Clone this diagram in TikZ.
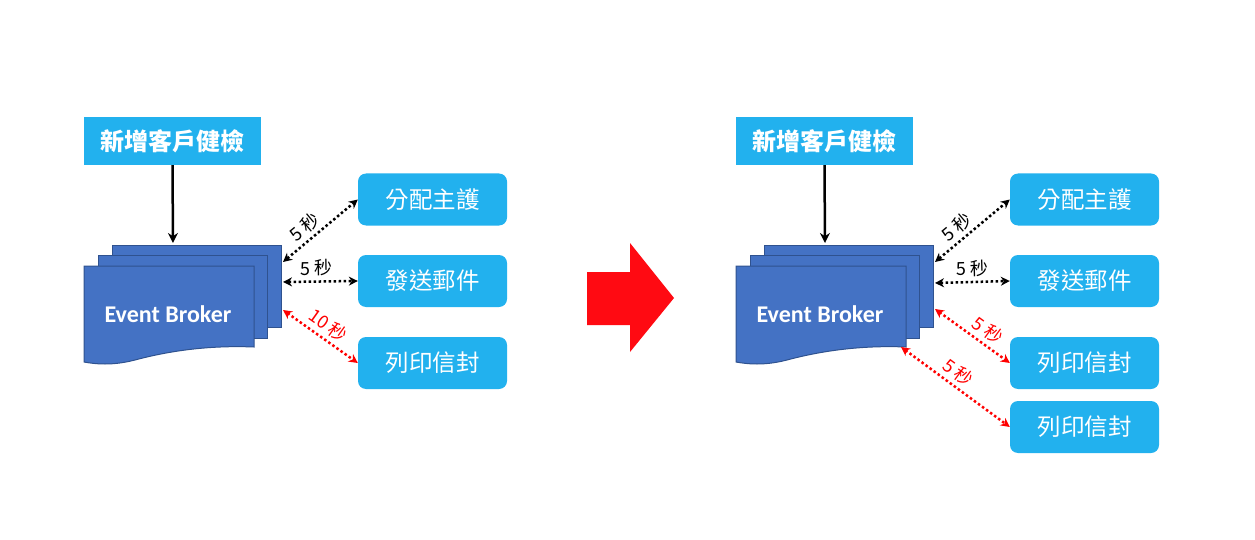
\documentclass[tikz,border=0pt]{standalone}
\usepackage{fontspec}
\setmainfont{Carlito}
\newfontfamily\cjk{Noto Sans CJK TC}
\usetikzlibrary{arrows.meta,positioning}
\definecolor{boxblue}{HTML}{22B1EE}
\definecolor{docblue}{HTML}{4472C4}
\definecolor{docedge}{HTML}{2F528F}
\definecolor{bigred}{HTML}{FF0A12}

\begin{document}
\begin{tikzpicture}[
		x=1pt, y=-1pt,
		topbox/.style={fill=boxblue, text=white, minimum width=177pt, minimum height=48pt, inner sep=0pt, font=\cjk\bfseries\fontsize{24}{24}\selectfont},
		taskbox/.style={fill=boxblue, text=white, rounded corners=8pt, minimum width=149pt, minimum height=52pt, inner sep=0pt, font=\cjk\fontsize{23.5}{24}\selectfont},
		page/.style={fill=docblue, draw=docedge, line width=1pt},
		brokertext/.style={text=white, font=\bfseries\fontsize{24}{24}\selectfont},
		feed/.style={-{Stealth[length=10pt,width=10pt]}, line width=2.5pt},
		link/.style={{Stealth[length=9pt,width=9pt]}-{Stealth[length=9pt,width=9pt]}, line width=2.5pt, dash pattern=on 2.5pt off 2.5pt},
		delay/.style={font=\cjk\fontsize{18}{18}\selectfont, sloped, above, inner sep=4pt}
	]
	\useasboundingbox (0,0) rectangle (1255,540);

	% left: before
	\node[topbox] (add1) at (172.5,141) {新增客戶健檢};
	\filldraw[page] (112,245) rectangle (281,327);
	\filldraw[page] (98,255) rectangle (267,338);
	\filldraw[page] (84,266) -- (254,266) -- (254,347)
		.. controls (205,345) and (165,352) .. (135,360)
		.. controls (112,366) and (95,364) .. (84,362) -- cycle;
	\node[brokertext] (broker1) at (168,314) {Event Broker};
	\coordinate (in1) at (173,243);
	\coordinate (outa1) at (283,262);
	\coordinate (outb1) at (283,282);
	\coordinate (outc1) at (283,310);

	\node[taskbox] (nurse1) at (432.5,199.5) {分配主護};
	\node[taskbox] (mail1) at (432.5,281) {發送郵件};
	\node[taskbox] (print1) at (432.5,363) {列印信封};

	\draw[feed] (add1.south) -- (in1);
	\draw[link] (outa1) -- node[delay, pos=0.4] {5 秒} (nurse1.west);
	\draw[link] (outb1) -- node[delay, pos=0.45] {5 秒} (mail1.west);
	\draw[link, red] (outc1) -- node[delay, pos=0.5, text=red] {10 秒} (print1.west);

	% middle arrow
	\fill[bigred] (587,272) -- (630,272) -- (630,243) -- (674,298) -- (630,352) -- (630,325) -- (587,325) -- cycle;

	% right: after
	\node[topbox] (add2) at (824.5,141) {新增客戶健檢};
	\filldraw[page] (764,245) rectangle (933,327);
	\filldraw[page] (750,255) rectangle (919,338);
	\filldraw[page] (736,266) -- (906,266) -- (906,347)
		.. controls (857,345) and (817,352) .. (787,360)
		.. controls (764,366) and (747,364) .. (736,362) -- cycle;
	\node[brokertext] (broker2) at (820,314) {Event Broker};
	\coordinate (in2) at (825,243);
	\coordinate (outa2) at (935,262);
	\coordinate (outb2) at (935,283);
	\coordinate (outc2) at (935,309);
	\coordinate (outd2) at (901,347);

	\node[taskbox] (nurse2) at (1084.5,199.5) {分配主護};
	\node[taskbox] (mail2) at (1084.5,281) {發送郵件};
	\node[taskbox] (print2) at (1084.5,363) {列印信封};
	\node[taskbox] (print3) at (1084.5,427) {列印信封};

	\draw[feed] (add2.south) -- (in2);
	\draw[link] (outa2) -- node[delay, pos=0.4] {5 秒} (nurse2.west);
	\draw[link] (outb2) -- node[delay, pos=0.5] {5 秒} (mail2.west);
	\draw[link, red] (outc2) -- node[delay, pos=0.6, text=red] {5 秒} (print2.west);
	\draw[link, red] (outd2) -- node[delay, pos=0.45, text=red] {5 秒} (print3.west);
\end{tikzpicture}
\end{document}
